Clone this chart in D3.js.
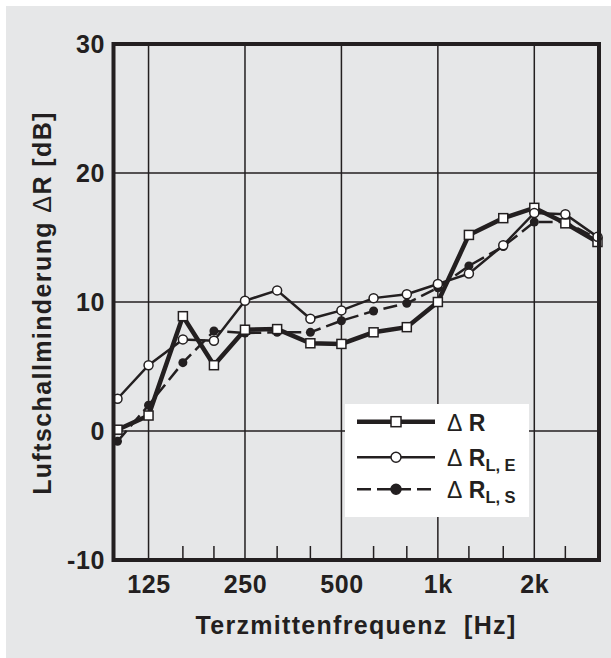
<!DOCTYPE html>
<html>
<head>
<meta charset="utf-8">
<script src="https://cdn.jsdelivr.net/npm/d3@7"></script>
<style>
  html, body { margin: 0; padding: 0; background: #fff; }
  svg { display: block; }
  text { font-family: "Liberation Sans", Arial, Helvetica, sans-serif; font-weight: bold; fill: #231f20; }
</style>
</head>
<body>
<div id="chart"></div>
<script>
// third-octave centre frequencies [Hz]
const freqs = [100, 125, 160, 200, 250, 315, 400, 500, 630, 800, 1000, 1250, 1600, 2000, 2500, 3150]
const gridFreqs = [125, 250, 500, 1000, 2000]
const gridLabels = ["125", "250", "500", "1k", "2k"]
const yTicks = [-10, 0, 10, 20, 30]

// values in dB
const deltaR   = [0.1, 1.2, 8.9, 5.1, 7.85, 7.9, 6.8, 6.75, 7.65, 8.05, 10.0, 15.2, 16.5, 17.3, 16.1, 14.65]
const deltaRLE = [2.5, 5.1, 7.1, 7.0, 10.1, 10.9, 8.7, 9.35, 10.3, 10.6, 11.4, 12.2, 14.4, 16.9, 16.8, 15.05]
const deltaRLS = [-0.8, 2.0, 5.3, 7.75, 7.6, 7.65, 7.65, 8.55, 9.3, 9.9, 11.1, 12.8, 14.3, 16.2, 16.2, 14.9]

const width = 611, height = 658
const ink = "#231f20"

const svg = d3.select("#chart").append("svg")
  .attr("width", width)
  .attr("height", height)

svg.append("rect")
  .attr("x", 6).attr("y", 6)
  .attr("width", width - 6).attr("height", height - 6)
  .attr("fill", "#e6e7e8")

const x = d3.scaleLog().domain([100, 3150]).range([117.5, 597.5])
const y = d3.scaleLinear().domain([-10, 30]).range([560, 44])
const plotLeft = 113.5, plotRight = 599, plotTop = y(30), plotBottom = y(-10)

// grid
svg.append("g").selectAll("line").data(gridFreqs).join("line")
  .attr("x1", d => x(d)).attr("x2", d => x(d))
  .attr("y1", plotTop).attr("y2", plotBottom)
  .attr("stroke", ink).attr("stroke-width", 1.5)
svg.append("g").selectAll("line").data([0, 10, 20]).join("line")
  .attr("x1", plotLeft).attr("x2", plotRight)
  .attr("y1", d => y(d)).attr("y2", d => y(d))
  .attr("stroke", ink).attr("stroke-width", 1.5)

// small ticks for the other third-octave bands
svg.append("g").selectAll("line")
  .data(freqs.filter(f => !gridFreqs.includes(f) && f > 100 && f < 3150)).join("line")
  .attr("x1", d => x(d)).attr("x2", d => x(d))
  .attr("y1", plotBottom - 14).attr("y2", plotBottom)
  .attr("stroke", ink).attr("stroke-width", 1.5)

// tick labels
svg.append("g").selectAll("text").data(gridFreqs).join("text")
  .attr("x", d => x(d) + 0.5).attr("y", 593)
  .attr("text-anchor", "middle")
  .attr("font-size", 25)
  .attr("letter-spacing", 0.6)
  .text((d, i) => gridLabels[i])
svg.append("g").selectAll("text").data(yTicks).join("text")
  .attr("x", 105).attr("y", d => y(d) + 9)
  .attr("text-anchor", "end")
  .attr("font-size", 25)
  .attr("letter-spacing", 0.6)
  .text(d => d)

// axis titles
svg.append("text")
  .attr("x", 356).attr("y", 634)
  .attr("text-anchor", "middle")
  .attr("font-size", 25)
  .attr("letter-spacing", 1.3)
  .attr("xml:space", "preserve")
  .text("Terzmittenfrequenz  [Hz]")
const yTitle = svg.append("text")
  .attr("transform", "translate(51,303) rotate(-90)")
  .attr("text-anchor", "middle")
  .attr("font-size", 25)
  .attr("letter-spacing", 1.4)
yTitle.append("tspan").text("Luftschallminderung ")
yTitle.append("tspan").attr("font-weight", "normal").text("Δ")
yTitle.append("tspan").text("R [dB]")

const line = d3.line().x((d, i) => x(freqs[i])).y(d => y(d))

// ΔR L,S : dashed, filled dots
svg.append("path").datum(deltaRLS)
  .attr("d", line).attr("fill", "none")
  .attr("stroke", ink).attr("stroke-width", 2.5)
  .attr("stroke-dasharray", "14,6")
svg.append("g").selectAll("circle").data(deltaRLS).join("circle")
  .attr("cx", (d, i) => x(freqs[i])).attr("cy", d => y(d))
  .attr("r", 4.5).attr("fill", ink)

// ΔR : thick, open squares
svg.append("path").datum(deltaR)
  .attr("d", line).attr("fill", "none")
  .attr("stroke", ink).attr("stroke-width", 4.5)
svg.append("g").selectAll("rect").data(deltaR).join("rect")
  .attr("x", (d, i) => x(freqs[i]) - 4.5).attr("y", d => y(d) - 4.5)
  .attr("width", 9).attr("height", 9)
  .attr("fill", "#fff").attr("stroke", ink).attr("stroke-width", 1.5)

// ΔR L,E : thin, open circles
svg.append("path").datum(deltaRLE)
  .attr("d", line).attr("fill", "none")
  .attr("stroke", ink).attr("stroke-width", 2.5)
svg.append("g").selectAll("circle").data(deltaRLE).join("circle")
  .attr("cx", (d, i) => x(freqs[i])).attr("cy", d => y(d))
  .attr("r", 4.5).attr("fill", "#fff").attr("stroke", ink).attr("stroke-width", 1.5)

// frame
svg.append("rect")
  .attr("x", plotLeft).attr("y", plotTop)
  .attr("width", plotRight - plotLeft).attr("height", plotBottom - plotTop)
  .attr("fill", "none").attr("stroke", ink).attr("stroke-width", 4)

// legend
const legend = svg.append("g")
legend.append("rect")
  .attr("x", 345).attr("y", 404).attr("width", 184).attr("height", 113)
  .attr("fill", "#fff")
const entries = [
  { sub: null, width: 4.5, dash: null, marker: "square" },
  { sub: "L, E", width: 2.5, dash: null, marker: "open" },
  { sub: "L, S", width: 2.5, dash: "14,6", marker: "dot" }
]
entries.forEach((e, i) => {
  const ly = [421.7, 457.3, 489.3][i]
  legend.append("line")
    .attr("x1", 357).attr("x2", 435).attr("y1", ly).attr("y2", ly)
    .attr("stroke", ink).attr("stroke-width", e.width)
    .attr("stroke-dasharray", e.dash)
  if (e.marker === "square") {
    legend.append("rect").attr("x", 391).attr("y", ly - 5).attr("width", 10).attr("height", 10)
      .attr("fill", "#fff").attr("stroke", ink).attr("stroke-width", 1.5)
  } else {
    legend.append("circle").attr("cx", 396).attr("cy", ly).attr("r", 5)
      .attr("fill", e.marker === "dot" ? ink : "#fff")
      .attr("stroke", ink).attr("stroke-width", 1.5)
  }
  const t = legend.append("text").attr("x", 447).attr("y", ly + 9).attr("font-size", 23)
  t.append("tspan").attr("font-weight", "normal").text("Δ")
  t.append("tspan").text(" R")
  if (e.sub) {
    t.append("tspan").attr("dy", 5).attr("font-size", 16.5).text(e.sub)
  }
})
</script>
</body>
</html>
